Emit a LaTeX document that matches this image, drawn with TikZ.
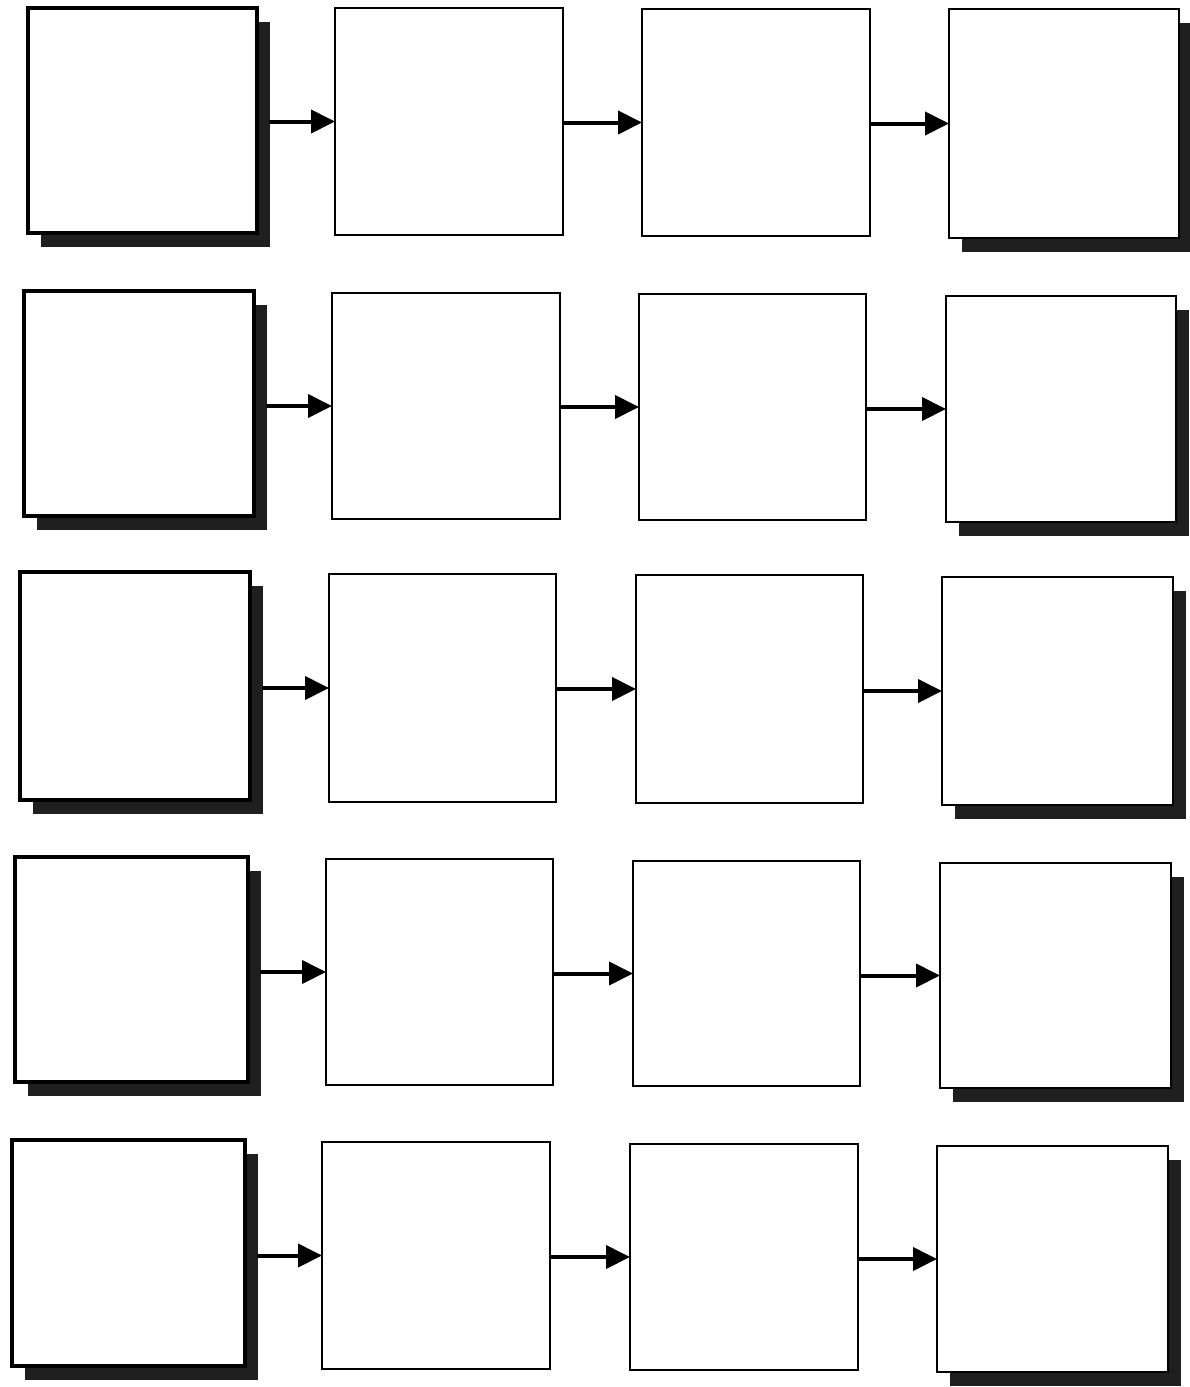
\documentclass[tikz,border=0pt]{standalone}
\usetikzlibrary{arrows.meta,shadows}
\begin{document}
\begin{tikzpicture}[x=1pt,y=-1pt,
  box/.style={draw=black,fill=white,line width=2.4pt,inner sep=0pt,outer sep=0pt},
  firstbox/.style={box,line width=3.4pt},
  shad/.style={drop shadow={shadow xshift=13pt,shadow yshift=-14pt,fill=black!88,opacity=1}},
  arr/.style={line width=4pt,-{Triangle[length=24pt,width=23pt]},shorten <=-1pt}]
\useasboundingbox (0,0) rectangle (1190,1387);
\foreach \r/\ax/\ay/\aw/\ah/\bx/\by/\bw/\bh/\cx/\cy/\cw/\ch/\dx/\dy/\dw/\dh in {
 1/142.5/120.5/229/225/449/121.5/228/227/756/122.5/228/227/1064/123.5/230/229,
 2/139/403.5/230/225/446/406/228/226/752.5/407/227/226/1061/409/230/226,
 3/135/686/230/228/442.5/688/227/228/749.5/689/227/228/1057.5/691/231/228,
 4/131.5/969.5/233/225/439.5/972/227/226/746.5/973.5/227/225/1055.5/975.5/231/225,
 5/128.5/1253/233/226/436/1255.5/228/227/744/1257/228/226/1052.5/1259/231/226}{
  \node[firstbox,shad,minimum width=\aw pt,minimum height=\ah pt] (r\r c1) at (\ax,\ay) {};
  \node[box,minimum width=\bw pt,minimum height=\bh pt] (r\r c2) at (\bx,\by) {};
  \node[box,minimum width=\cw pt,minimum height=\ch pt] (r\r c3) at (\cx,\cy) {};
  \node[box,shad,minimum width=\dw pt,minimum height=\dh pt] (r\r c4) at (\dx,\dy) {};
  \draw[arr] ([xshift=13pt]r\r c1.east |- r\r c2.west) -- (r\r c2.west);
  \draw[arr] (r\r c2.east |- r\r c3.west) -- (r\r c3.west);
  \draw[arr] (r\r c3.east |- r\r c4.west) -- (r\r c4.west);
}
\end{tikzpicture}
\end{document}
